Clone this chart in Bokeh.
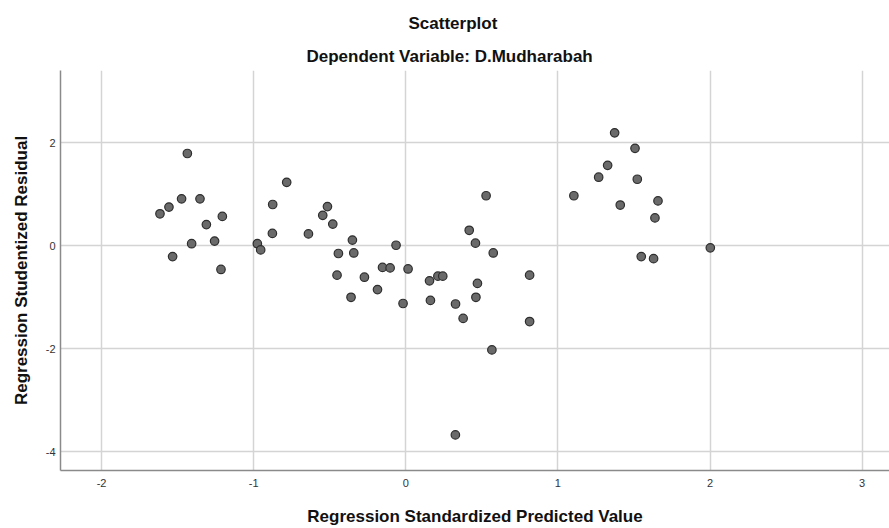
from bokeh.plotting import figure
from bokeh.models import Range1d, FixedTicker, Title
from bokeh.embed import file_html
from bokeh.resources import INLINE

# Regression standardized predicted values (x) and studentized residuals (y)
pred = [-1.436, -1.616, -1.557, -1.474, -1.353, -1.311, -1.206, -1.408, -1.257, -1.533,
        -1.215, -0.976, -0.954, -0.875, -0.877, -0.783, -0.640, -0.515, -0.546, -0.480,
        -0.351, -0.443, -0.342, -0.452, -0.360, -0.272, -0.186, -0.153, -0.103, -0.064,
        0.015, -0.018, 0.156, 0.162, 0.211, 0.243, 0.327, 0.377, 0.417, 0.458,
        0.528, 0.575, 0.471, 0.461, 0.566, 0.814, 0.814, 1.105, 1.268, 1.327,
        1.373, 1.507, 1.522, 1.410, 1.658, 1.638, 1.548, 1.629, 2.002, 0.326]
resid = [1.79, 0.62, 0.75, 0.91, 0.91, 0.41, 0.57, 0.04, 0.09, -0.21,
         -0.46, 0.04, -0.08, 0.80, 0.24, 1.23, 0.23, 0.76, 0.59, 0.42,
         0.11, -0.15, -0.14, -0.57, -1.00, -0.61, -0.85, -0.42, -0.43, 0.01,
         -0.45, -1.12, -0.68, -1.06, -0.59, -0.59, -1.13, -1.41, 0.30, 0.05,
         0.97, -0.14, -0.73, -1.00, -2.02, -0.57, -1.47, 0.97, 1.33, 1.56,
         2.19, 1.89, 1.29, 0.79, 0.87, 0.54, -0.21, -0.25, -0.04, -3.67]

x_ticks = [-2, -1, 0, 1, 2, 3]
y_ticks = [-4, -2, 0, 2]
title_text = "Scatterplot"
subtitle_text = "Dependent Variable: D.Mudharabah"
x_label = "Regression Standardized Predicted Value"
y_label = "Regression Studentized Residual"

FONT = "Liberation Sans"

p = figure(width=889, height=528, output_backend="svg", toolbar_location=None,
           x_range=Range1d(-2.27, 3.18), y_range=Range1d(-4.36, 3.40),
           min_border_left=60, min_border_right=0, min_border_top=70, min_border_bottom=56)
p.outline_line_color = None
p.background_fill_color = "white"
p.border_fill_color = "white"

p.scatter(pred, resid, size=8.5, fill_color="#6a6a6a", line_color="#2e2e2e", line_width=1.2)

for ax, ticks in ((p.xaxis[0], x_ticks), (p.yaxis[0], y_ticks)):
    ax.ticker = FixedTicker(ticks=ticks)
    ax.major_label_overrides = {t: str(t) for t in ticks}
    ax.major_tick_out = 0
    ax.major_tick_in = 0
    ax.minor_tick_out = 0
    ax.minor_tick_in = 0
    ax.axis_line_color = "#8a8a8a"
    ax.axis_line_width = 1.5
    ax.major_label_text_font = FONT
    ax.major_label_text_font_size = "11px"
    ax.major_label_text_color = "#333333"
    ax.axis_label_text_font = FONT
    ax.axis_label_text_font_size = "17px"
    ax.axis_label_text_font_style = "bold"
    ax.axis_label_text_color = "#111111"

p.xaxis[0].axis_label = x_label
p.yaxis[0].axis_label = y_label
p.xaxis[0].major_label_standoff = 8
p.yaxis[0].major_label_standoff = 5
p.xaxis[0].axis_label_standoff = 17
p.yaxis[0].axis_label_standoff = 12

for g in (p.xgrid[0], p.ygrid[0]):
    g.grid_line_color = "#d4d4d4"
    g.grid_line_width = 1.5

p.add_layout(Title(text=subtitle_text, align="left", offset=246, standoff=10,
                   text_font=FONT, text_font_size="17px", text_font_style="bold",
                   text_color="#111111"), "above")
p.add_layout(Title(text=title_text, align="left", offset=348, standoff=14,
                   text_font=FONT, text_font_size="17px", text_font_style="bold",
                   text_color="#111111"), "above")

open("out.html", "w").write(file_html(p, INLINE))
